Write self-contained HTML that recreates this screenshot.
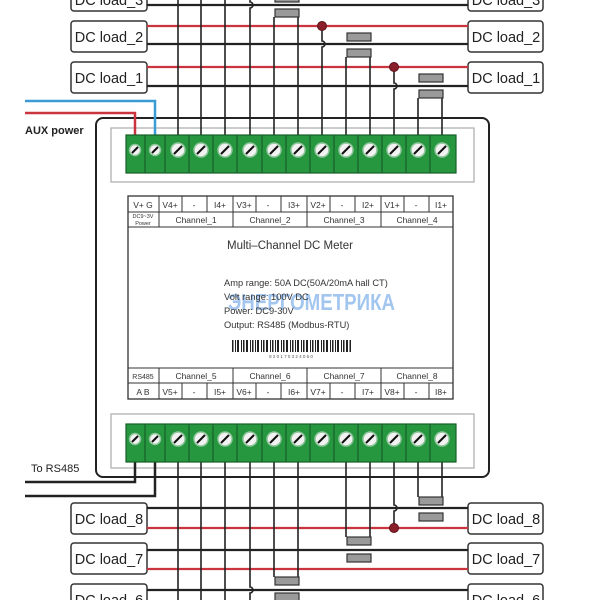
<!DOCTYPE html>
<html><head><meta charset="utf-8"><style>
html,body{margin:0;padding:0;background:#fff;}
svg{display:block;}
text{font-family:"Liberation Sans",sans-serif;}
</style></head><body>
<svg width="600" height="600" viewBox="0 0 600 600" xmlns="http://www.w3.org/2000/svg">
<rect x="96" y="118" width="393" height="359" rx="7" fill="#fff" stroke="#222" stroke-width="2"/>
<rect x="111" y="128" width="363" height="54" fill="none" stroke="#aaa" stroke-width="1.2"/>
<rect x="111" y="414" width="363" height="54" fill="none" stroke="#aaa" stroke-width="1.2"/>

<polyline points="25,101 155,101 155,135" fill="none" stroke="#3b9bd6" stroke-width="2.5"/>
<polyline points="25,113 135,113 135,135" fill="none" stroke="#c9343f" stroke-width="2.5"/>
<text x="25" y="134" font-size="11" font-weight="bold" fill="#222">AUX power</text>
<polyline points="25,482 135,482 135,461" fill="none" stroke="#222" stroke-width="2.5"/>
<polyline points="25,496 155,496 155,461" fill="none" stroke="#222" stroke-width="2.5"/>
<text x="31" y="472" font-size="11" fill="#222">To RS485</text>

<g fill="#fff" stroke="#333" stroke-width="1.5">
<rect x="71" y="-20" width="76" height="31" rx="3"/><rect x="468" y="-20" width="75" height="31" rx="3"/>
<rect x="71" y="21" width="76" height="31" rx="3"/><rect x="468" y="21" width="75" height="31" rx="3"/>
<rect x="71" y="62" width="76" height="31" rx="3"/><rect x="468" y="62" width="75" height="31" rx="3"/>
<rect x="71" y="503" width="76" height="31" rx="3"/><rect x="468" y="503" width="75" height="31" rx="3"/>
<rect x="71" y="543" width="76" height="31" rx="3"/><rect x="468" y="543" width="75" height="31" rx="3"/>
<rect x="71" y="584" width="76" height="31" rx="3"/><rect x="468" y="584" width="75" height="31" rx="3"/>
</g>
<g font-size="14.5" fill="#222" text-anchor="middle">
<text x="109" y="5">DC load_3</text><text x="506" y="5">DC load_3</text>
<text x="109" y="42">DC load_2</text><text x="506" y="42">DC load_2</text>
<text x="109" y="83">DC load_1</text><text x="506" y="83">DC load_1</text>
<text x="109" y="524">DC load_8</text><text x="506" y="524">DC load_8</text>
<text x="109" y="564">DC load_7</text><text x="506" y="564">DC load_7</text>
<text x="109" y="605">DC load_6</text><text x="506" y="605">DC load_6</text>
</g>

<g stroke-width="2.2">
<line x1="147" y1="5" x2="468" y2="5" stroke="#222"/>
<line x1="147" y1="26" x2="468" y2="26" stroke="#c9343f"/>
<line x1="147" y1="44" x2="468" y2="44" stroke="#222"/>
<line x1="147" y1="67" x2="468" y2="67" stroke="#c9343f"/>
<line x1="147" y1="86" x2="468" y2="86" stroke="#222"/>
<line x1="147" y1="508" x2="468" y2="508" stroke="#222"/>
<line x1="147" y1="528" x2="468" y2="528" stroke="#c9343f"/>
<line x1="147" y1="550" x2="468" y2="550" stroke="#222"/>
<line x1="147" y1="569" x2="468" y2="569" stroke="#c9343f"/>
<line x1="147" y1="590" x2="468" y2="590" stroke="#222"/>
<line x1="147" y1="609" x2="468" y2="609" stroke="#c9343f"/>
</g>

<g stroke="#222" stroke-width="1.6" fill="none">
<line x1="178" y1="0" x2="178" y2="135"/><line x1="201" y1="0" x2="201" y2="135"/>
<line x1="225" y1="0" x2="225" y2="135"/>
<path d="M250 0 V2 A3 3 0 0 1 250 8 V135"/>
<line x1="274" y1="17" x2="274" y2="135"/><line x1="298" y1="17" x2="298" y2="135"/>
<path d="M322 26 V41 A3 3 0 0 1 322 47 V135"/>
<line x1="346" y1="57" x2="346" y2="135"/><line x1="370" y1="57" x2="370" y2="135"/>
<path d="M394 67 V83 A3 3 0 0 1 394 89 V135"/>
<line x1="418" y1="98" x2="418" y2="135"/><line x1="442" y1="98" x2="442" y2="135"/>

<line x1="178" y1="461" x2="178" y2="600"/><line x1="201" y1="461" x2="201" y2="600"/>
<line x1="225" y1="461" x2="225" y2="600"/>
<path d="M250 461 V587 A3 3 0 0 1 250 593 V600"/>
<line x1="274" y1="461" x2="274" y2="577"/><line x1="298" y1="461" x2="298" y2="577"/>
<line x1="346" y1="461" x2="346" y2="537"/><line x1="370" y1="461" x2="370" y2="537"/>
<path d="M394 461 V505 A3 3 0 0 1 394 511 V528"/>
<line x1="418" y1="461" x2="418" y2="497"/><line x1="442" y1="461" x2="442" y2="497"/>
</g>
<g fill="#9a9a9a" stroke="#333" stroke-width="1.2">
<rect x="275" y="-5" width="24" height="7"/><rect x="275" y="9" width="24" height="8"/>
<rect x="347" y="33" width="24" height="8"/><rect x="347" y="49" width="24" height="8"/>
<rect x="419" y="74" width="24" height="8"/><rect x="419" y="90" width="24" height="8"/>
<rect x="419" y="497" width="24" height="8"/><rect x="419" y="513" width="24" height="8"/>
<rect x="347" y="537" width="24" height="8"/><rect x="347" y="554" width="24" height="8"/>
<rect x="275" y="577" width="24" height="8"/><rect x="275" y="593" width="24" height="8"/>
</g>
<g fill="#8a1f2a" stroke="#5a1018" stroke-width="1">
<circle cx="322" cy="26" r="4.5"/><circle cx="394" cy="67" r="4.5"/><circle cx="394" cy="528" r="4.5"/>
</g>

<g id="tb">
<rect x="126" y="135" width="330" height="38" fill="#26963f" stroke="#175f26" stroke-width="1.2"/>
<g stroke="#175f26" stroke-width="1.2">
<line x1="145" y1="135" x2="145" y2="173"/><line x1="165" y1="135" x2="165" y2="173"/>
<line x1="189" y1="135" x2="189" y2="173"/><line x1="213" y1="135" x2="213" y2="173"/>
<line x1="237" y1="135" x2="237" y2="173"/><line x1="262" y1="135" x2="262" y2="173"/>
<line x1="286" y1="135" x2="286" y2="173"/><line x1="310" y1="135" x2="310" y2="173"/>
<line x1="334" y1="135" x2="334" y2="173"/><line x1="358" y1="135" x2="358" y2="173"/>
<line x1="382" y1="135" x2="382" y2="173"/><line x1="406" y1="135" x2="406" y2="173"/>
<line x1="430" y1="135" x2="430" y2="173"/>
</g>
<g fill="#f2f2f2" stroke="#8fc79b" stroke-width="1.5">
<circle cx="135" cy="150" r="5.5"/><circle cx="155" cy="150" r="5.5"/>
<circle cx="178" cy="150" r="7"/><circle cx="201" cy="150" r="7"/><circle cx="225" cy="150" r="7"/>
<circle cx="250" cy="150" r="7"/><circle cx="274" cy="150" r="7"/><circle cx="298" cy="150" r="7"/>
<circle cx="322" cy="150" r="7"/><circle cx="346" cy="150" r="7"/><circle cx="370" cy="150" r="7"/>
<circle cx="394" cy="150" r="7"/><circle cx="418" cy="150" r="7"/><circle cx="442" cy="150" r="7"/>
</g>
<g stroke="#111" stroke-width="2">
<line x1="132" y1="153" x2="138" y2="147"/><line x1="152" y1="153" x2="158" y2="147"/>
<line x1="174" y1="154" x2="182" y2="146"/><line x1="197" y1="154" x2="205" y2="146"/>
<line x1="221" y1="154" x2="229" y2="146"/><line x1="246" y1="154" x2="254" y2="146"/>
<line x1="270" y1="154" x2="278" y2="146"/><line x1="294" y1="154" x2="302" y2="146"/>
<line x1="318" y1="154" x2="326" y2="146"/><line x1="342" y1="154" x2="350" y2="146"/>
<line x1="366" y1="154" x2="374" y2="146"/><line x1="390" y1="154" x2="398" y2="146"/>
<line x1="414" y1="154" x2="422" y2="146"/><line x1="438" y1="154" x2="446" y2="146"/>
</g>
</g>
<use href="#tb" transform="translate(0,289)"/>

<rect x="128" y="196" width="325" height="203" fill="#fff" stroke="#333" stroke-width="1.3"/>
<g stroke="#333" stroke-width="1">
<line x1="128" y1="212" x2="453" y2="212"/><line x1="128" y1="227" x2="453" y2="227"/>
<line x1="128" y1="368" x2="453" y2="368"/><line x1="128" y1="383" x2="453" y2="383"/>
<line x1="159" y1="196" x2="159" y2="227"/><line x1="159" y1="368" x2="159" y2="399"/>
<line x1="233" y1="196" x2="233" y2="227"/><line x1="307" y1="196" x2="307" y2="227"/><line x1="381" y1="196" x2="381" y2="227"/>
<line x1="233" y1="368" x2="233" y2="399"/><line x1="307" y1="368" x2="307" y2="399"/><line x1="381" y1="368" x2="381" y2="399"/>
<line x1="182" y1="196" x2="182" y2="212"/><line x1="207" y1="196" x2="207" y2="212"/>
<line x1="256" y1="196" x2="256" y2="212"/><line x1="281" y1="196" x2="281" y2="212"/>
<line x1="330" y1="196" x2="330" y2="212"/><line x1="355" y1="196" x2="355" y2="212"/>
<line x1="404" y1="196" x2="404" y2="212"/><line x1="429" y1="196" x2="429" y2="212"/>
<line x1="182" y1="383" x2="182" y2="399"/><line x1="207" y1="383" x2="207" y2="399"/>
<line x1="256" y1="383" x2="256" y2="399"/><line x1="281" y1="383" x2="281" y2="399"/>
<line x1="330" y1="383" x2="330" y2="399"/><line x1="355" y1="383" x2="355" y2="399"/>
<line x1="404" y1="383" x2="404" y2="399"/><line x1="429" y1="383" x2="429" y2="399"/>
</g>
<g font-size="8.5" fill="#333" text-anchor="middle">
<text x="143" y="208">V+ G</text>
<text x="170" y="208">V4+</text><text x="194" y="208">-</text><text x="220" y="208">I4+</text>
<text x="244" y="208">V3+</text><text x="268" y="208">-</text><text x="294" y="208">I3+</text>
<text x="318" y="208">V2+</text><text x="342" y="208">-</text><text x="368" y="208">I2+</text>
<text x="392" y="208">V1+</text><text x="416" y="208">-</text><text x="441" y="208">I1+</text>
<text x="196" y="223">Channel_1</text><text x="270" y="223">Channel_2</text>
<text x="344" y="223">Channel_3</text><text x="417" y="223">Channel_4</text>
<text x="196" y="379">Channel_5</text><text x="270" y="379">Channel_6</text>
<text x="344" y="379">Channel_7</text><text x="417" y="379">Channel_8</text>
<text x="170" y="395">V5+</text><text x="194" y="395">-</text><text x="220" y="395">I5+</text>
<text x="244" y="395">V6+</text><text x="268" y="395">-</text><text x="294" y="395">I6+</text>
<text x="318" y="395">V7+</text><text x="342" y="395">-</text><text x="368" y="395">I7+</text>
<text x="392" y="395">V8+</text><text x="416" y="395">-</text><text x="441" y="395">I8+</text>
<text x="143" y="379" font-size="7">RS485</text><text x="143" y="395">A  B</text>
<text x="143" y="218" font-size="5.5">DC9~3V</text><text x="143" y="225" font-size="5.5">Power</text>
</g>
<text x="290" y="249" font-size="11.5" fill="#333" text-anchor="middle">Multi–Channel DC Meter</text>
<text x="228" y="310" font-size="23" font-weight="bold" fill="#8db8ec" opacity="0.8" textLength="167" lengthAdjust="spacingAndGlyphs">ЭНЕРГОМЕТРИКА</text>
<g font-size="9.3" fill="#333">
<text x="224" y="286">Amp range: 50A DC(50A/20mA hall CT)</text>
<text x="224" y="300">Volt range: 100V DC</text>
<text x="224" y="314">Power: DC9-30V</text>
<text x="224" y="328">Output: RS485 (Modbus-RTU)</text>
</g>
<g fill="#222">
<rect x="232" y="340" width="1.5" height="12"/><rect x="235" y="340" width="1" height="12"/><rect x="237" y="340" width="2" height="12"/>
<rect x="241" y="340" width="1" height="12"/><rect x="243" y="340" width="1.5" height="12"/><rect x="246" y="340" width="2" height="12"/>
<rect x="250" y="340" width="1" height="12"/><rect x="252" y="340" width="1.5" height="12"/><rect x="255" y="340" width="1" height="12"/>
<rect x="257" y="340" width="2" height="12"/><rect x="261" y="340" width="1" height="12"/><rect x="263" y="340" width="1.5" height="12"/>
<rect x="266" y="340" width="2" height="12"/><rect x="270" y="340" width="1" height="12"/><rect x="272" y="340" width="1.5" height="12"/>
<rect x="275" y="340" width="1" height="12"/><rect x="277" y="340" width="2" height="12"/><rect x="281" y="340" width="1" height="12"/>
<rect x="283" y="340" width="1.5" height="12"/><rect x="286" y="340" width="2" height="12"/><rect x="290" y="340" width="1" height="12"/>
<rect x="292" y="340" width="1.5" height="12"/><rect x="295" y="340" width="1" height="12"/><rect x="297" y="340" width="2" height="12"/>
<rect x="301" y="340" width="1" height="12"/><rect x="303" y="340" width="1.5" height="12"/><rect x="306" y="340" width="2" height="12"/>
<rect x="310" y="340" width="1" height="12"/><rect x="312" y="340" width="1.5" height="12"/><rect x="315" y="340" width="1" height="12"/>
<rect x="317" y="340" width="2" height="12"/><rect x="321" y="340" width="1" height="12"/><rect x="323" y="340" width="1.5" height="12"/>
<rect x="326" y="340" width="2" height="12"/><rect x="330" y="340" width="1" height="12"/><rect x="332" y="340" width="1.5" height="12"/>
<rect x="335" y="340" width="1" height="12"/><rect x="337" y="340" width="2" height="12"/><rect x="341" y="340" width="1" height="12"/>
<rect x="343" y="340" width="1.5" height="12"/><rect x="346" y="340" width="2" height="12"/><rect x="349.5" y="340" width="1.5" height="12"/>
</g>
<text x="291" y="358" font-size="4.5" fill="#555" text-anchor="middle">8 2 0 1 7 0 3 2 4 0 6 0</text>
</svg>
</body></html>
